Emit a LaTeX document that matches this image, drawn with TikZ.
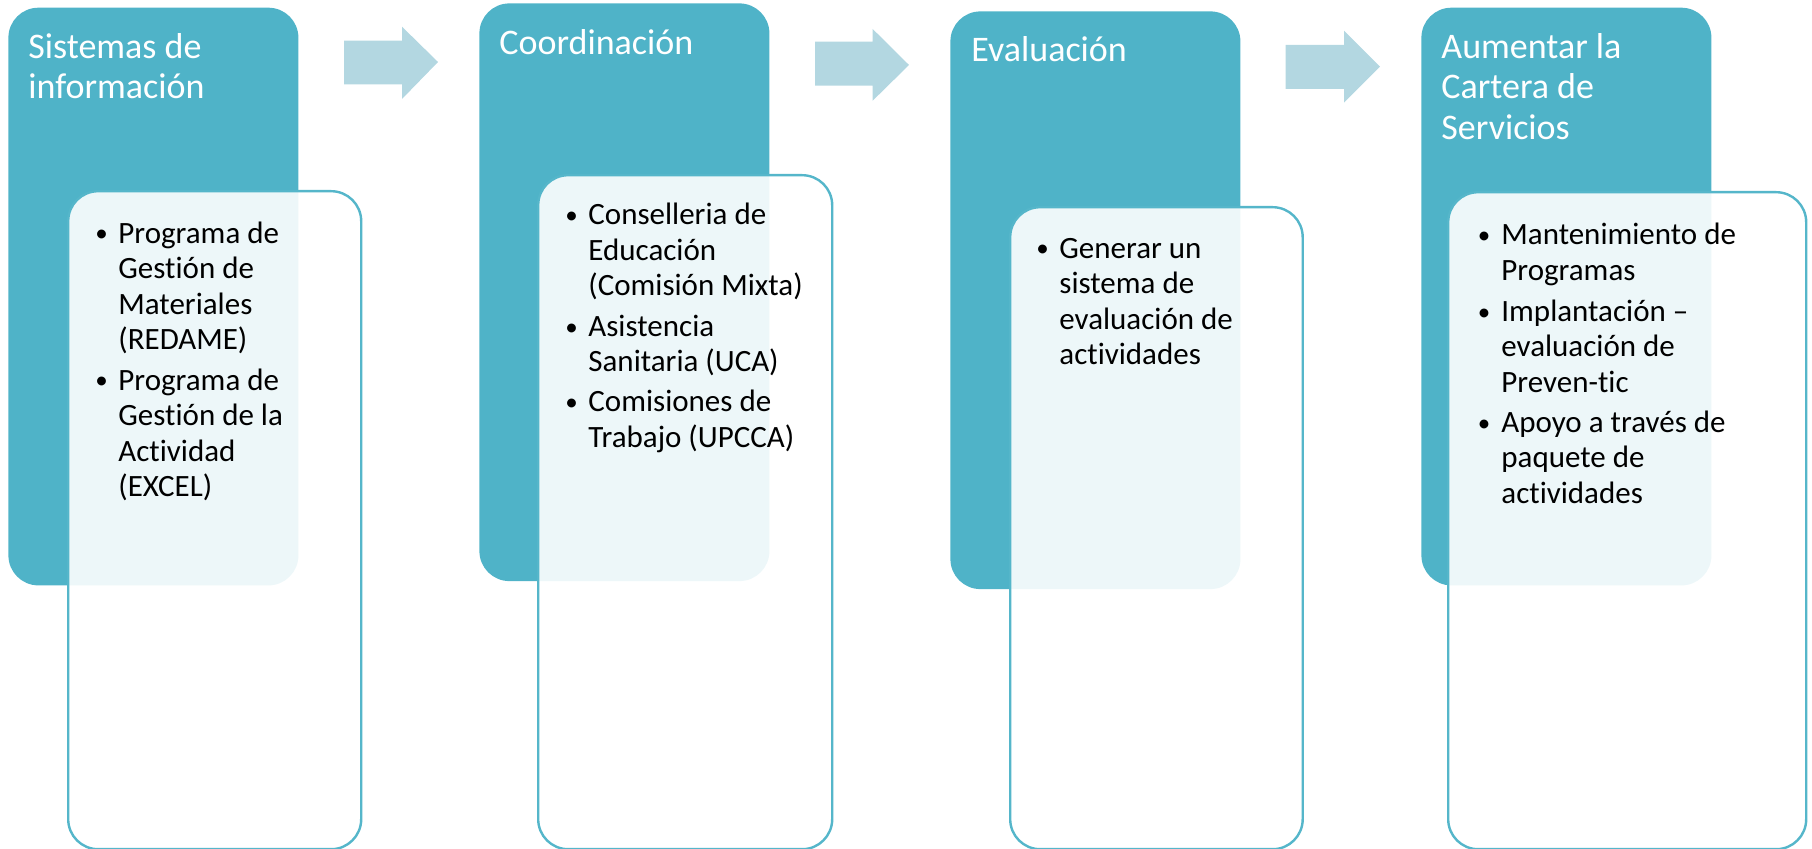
\documentclass[tikz,border=0pt]{standalone}
\usepackage{fontspec}
\setmainfont{Carlito}[Ligatures={NoCommon}]
\definecolor{tealbox}{HTML}{4FB3C8}
\definecolor{tealline}{HTML}{55B6CA}
\definecolor{arrowfill}{HTML}{B3D7E1}
\newcommand\ttlfont{\fontsize{18}{20.25}\selectfont}
\newcommand\bdyfont{\fontsize{15.5}{17.75}\selectfont}
\newcommand\lns[1]{\begin{tabular}[t]{@{}l@{}}#1\end{tabular}}
\tikzset{
  phase/.style={anchor=north west, fill=tealbox, draw=none, rounded corners=15pt, inner sep=0pt, minimum width=145pt},
  detail/.style={anchor=north west, fill=white, fill opacity=0.9, draw=tealline, draw opacity=1, line width=1.2pt, rounded corners=15pt, inner sep=0pt},
  ttl/.style={anchor=base west, inner sep=0pt, text=white, font=\ttlfont},
  itm/.style={anchor=base west, inner sep=0pt, text=black, font=\bdyfont},
  blt/.style={anchor=base, inner sep=0pt, text=black, font=\fontsize{12.5}{14}\selectfont},
  blockarrow/.style={fill=arrowfill, draw=none}
}
\begin{document}
\begin{tikzpicture}[x=0.5pt, y=-0.5pt]
\useasboundingbox (0,0) rectangle (1812,849);
% block arrows
\fill[blockarrow] (344,40.7) -- (402,40.7) -- (402,26.7) -- (438,62) -- (402,99) -- (402,84.3) -- (344,84.3) -- cycle;
\fill[blockarrow] (815,41.7) -- (872.7,41.7) -- (872.7,29) -- (909,65) -- (872.7,100.7) -- (872.7,85.7) -- (815,85.7) -- cycle;
\fill[blockarrow] (1285.7,45) -- (1344,45) -- (1344,30.7) -- (1380,66.7) -- (1344,102.7) -- (1344,89) -- (1285.7,89) -- cycle;
% phase boxes
\node[phase, minimum height=288.85pt] (p1) at (8,7.3) {};
\node[phase, minimum height=288.85pt] (p2) at (479,3) {};
\node[phase, minimum height=288.85pt] (p3) at (950,11) {};
\node[phase, minimum height=288.85pt] (p4) at (1421,7.3) {};
% detail boxes
\node[detail, minimum width=146.5pt, minimum height=329pt] (d1) at (67,190) {};
\node[detail, minimum width=147pt, minimum height=337pt] (d2) at (537,174) {};
\node[detail, minimum width=146.25pt, minimum height=321pt] (d3) at (1009,206) {};
\node[detail, minimum width=179pt, minimum height=328.5pt] (d4) at (1447,191) {};
% titles
\node[ttl] (t1) at (28,58.3) {\lns{Sistemas de\\información}};
\node[ttl] (t2) at (499,55) {\lns{Coordinación}};
\node[ttl] (t3) at (971,61.7) {\lns{Evaluación}};
\node[ttl] (t4) at (1441,58.3) {\lns{Aumentar la\\Cartera de\\Servicios}};
% box 1 items
\node[blt] (b11) at (101.5,242) {•};
\node[itm] (i11) at (118,243.3) {\lns{Programa de\\Gestión de\\Materiales\\(REDAME)}};
\node[blt] (b12) at (101.5,389) {•};
\node[itm] (i12) at (118,390.3) {\lns{Programa de\\Gestión de la\\Actividad\\(EXCEL)}};
% box 2 items
\node[blt] (b21) at (571.5,223.7) {•};
\node[itm] (i21) at (588,225) {\lns{Conselleria de\\Educación\\(Comisión Mixta)}};
\node[blt] (b22) at (571.5,335.2) {•};
\node[itm] (i22) at (588,336.5) {\lns{Asistencia\\Sanitaria (UCA)}};
\node[blt] (b23) at (571.5,410.7) {•};
\node[itm] (i23) at (588,412) {\lns{Comisiones de\\Trabajo (UPCCA)}};
% box 3 items
\node[blt] (b31) at (1042.5,257) {•};
\node[itm] (i31) at (1059,258.3) {\lns{Generar un\\sistema de\\evaluación de\\actividades}};
% box 4 items
\node[blt] (b41) at (1484,243.7) {•};
\node[itm] (i41) at (1501,245) {\lns{Mantenimiento de\\Programas}};
\node[blt] (b42) at (1484,320.2) {•};
\node[itm] (i42) at (1501,321.5) {\lns{Implantación –\\evaluación de\\Preven-tic}};
\node[blt] (b43) at (1484,431.2) {•};
\node[itm] (i43) at (1501,432.5) {\lns{Apoyo a través de\\paquete de\\actividades}};
\end{tikzpicture}
\end{document}
